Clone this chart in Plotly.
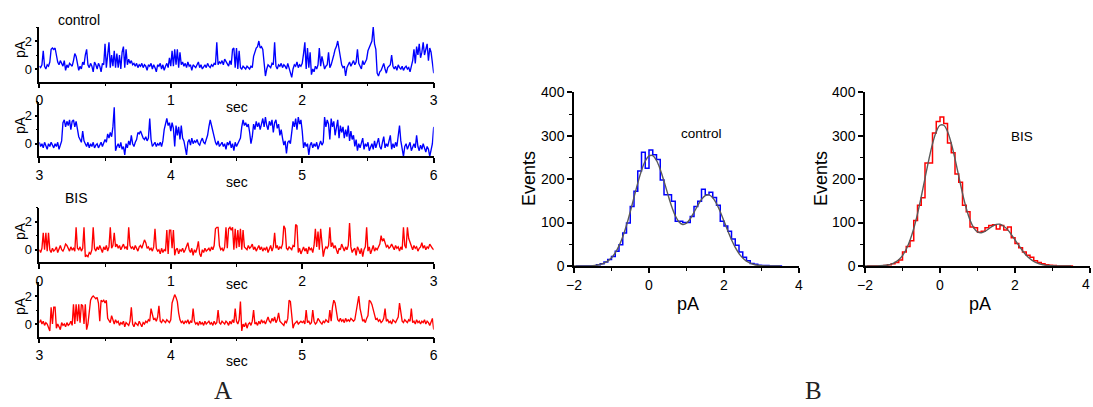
import numpy as np
import plotly.graph_objects as go

# ---------------- DATA ----------------
# single-channel current traces (pA), sampled every 0.01 s
ctrl_0_3 = [
    0.2, 0.1, 0.3, 1.3, 0.2, 0.0, 0.3, 0.2, 0.5, 1.4,
    1.5, 1.4, 1.5, 0.9, 0.5, 0.3, 0.6, 0.4, 0.2, 0.6,
    -0.1, 0.3, 0.1, 0.4, 0.3, 0.2, 0.6, 1.1, 0.9, 0.5,
    -0.1, 0.2, 0.0, 0.5, 0.3, 1.0, 1.4, 0.3, 0.1, 0.4,
    0.2, -0.2, 0.5, 0.3, 0.0, 0.4, 0.2, -0.2, 0.4, 0.3,
    1.8, 0.1, 1.2, 1.9, 0.1, 1.0, 0.2, 1.3, 0.1, 1.1,
    0.1, 1.0, 0.0, 1.2, 1.6, 0.1, 1.4, 0.3, 0.7, 0.4,
    0.6, 0.3, 0.4, 0.2, 0.4, 0.1, 0.3, 0.2, 0.4, 0.1,
    0.3, 0.2, -0.1, 0.3, 0.2, 0.4, 0.0, 0.3, 0.1, -0.2,
    0.3, 0.2, 0.4, 0.0, 0.3, -0.1, 0.2, 0.4, 0.1, 0.8,
    0.2, 1.3, 0.2, 1.4, 0.3, 1.4, 0.1, 1.2, 0.3, 0.5,
    0.2, 0.4, 0.1, 0.5, 0.2, 0.3, -0.1, 0.3, 0.2, 0.1,
    0.3, 0.5, 0.1, 0.3, 0.0, 0.2, 0.3, 0.1, 0.4, 0.2,
    0.1, 0.3, 0.2, 0.4, 0.3, 1.9, 0.3, 0.5, 0.4, 0.6,
    0.3, 0.7, 0.5, 0.4, 0.2, 0.6, 0.3, 1.4, 1.5, 0.1,
    1.5, 0.0, 1.3, 0.1, 0.0, 0.2, 0.1, 0.0, 0.2, 0.1,
    0.0, 0.2, 0.1, 0.9, 1.3, 1.5, 1.6, 2.0, 1.5, 1.6,
    1.4, 0.6, -0.5, 0.0, 0.3, 0.2, 0.1, 0.4, 0.3, 1.9,
    0.2, 0.0, 0.3, 0.2, 0.4, 0.1, 0.3, 0.2, 0.0, 0.4,
    0.1, -0.2, -0.6, 0.0, 0.3, 0.2, 0.5, 0.1, 0.3, 0.2,
    0.4, 1.1, 1.9, 0.0, 1.5, 0.1, 1.2, -0.4, 0.0, -0.2,
    0.2, 0.0, 0.3, 1.5, 0.2, 0.9, 0.3, 0.0, 0.2, 0.3,
    1.2, 0.1, 0.3, 0.6, 1.0, 1.4, 1.6, 2.0, 1.5, 0.8,
    0.3, 0.1, 0.2, -0.5, 0.1, 0.3, 0.5, 0.2, 0.4, 0.6,
    0.3, 0.5, 1.4, 0.4, 0.2, 0.0, 0.6, 0.3, 0.5, 0.7,
    1.3, 1.5, 1.7, 2.0, 3.0, 1.8, 1.4, -0.3, -0.5, -0.2,
    -0.1, 0.2, 0.4, 0.0, -0.3, 0.1, 0.2, 0.3, 1.0, 0.2,
    0.0, 0.2, -0.1, 0.3, 0.1, 0.0, 0.2, -0.1, 0.1, 0.2,
    0.0, 0.1, -0.2, 0.3, 0.6, 1.4, 0.4, 1.6, 1.0, 1.8,
    0.8, 1.2, 1.9, 1.0, 1.4, 1.8, 0.6, 1.5, 1.2, 0.2,
    -0.3,
]
ctrl_3_6 = [
    0.1, -0.2, 0.0, -0.3, 0.1, -0.1, -0.4, 0.0, -0.2, 0.1,
    -0.1, -0.3, 0.0, -0.2, 0.1, -0.4, -0.1, 0.2, 1.5, 1.7,
    1.2, 1.6, 1.3, 1.7, 1.0, 1.6, 1.7, 1.2, 1.6, 1.0,
    0.5, 0.3, 0.1, 0.9, 0.2, 0.0, -0.2, 0.1, -0.3, 0.0,
    -0.2, 0.1, -0.3, -0.1, 0.0, -0.3, -0.1, 0.1, -0.2, 0.0,
    0.3, 0.1, 0.7, 0.4, 0.8, 0.5, 1.2, 2.6, -0.5, -0.2,
    0.0, -0.3, 0.1, -0.4, -0.2, -0.8, 0.0, -0.3, 0.2, -0.1,
    0.6, 0.0, -0.2, 0.1, 0.3, 0.8, 0.7, 0.9, 0.6, 0.4,
    0.3, 0.5, 0.2, 0.4, 1.8, 0.3, -0.2, 0.0, 0.1, -0.2,
    0.0, -0.1, 0.1, -0.2, 0.2, 1.0, 1.4, 1.8, 1.3, 1.5,
    0.9, 1.5, 1.1, -0.2, 1.3, 0.6, 1.2, 0.3, 1.3, 0.4,
    0.2, -0.3, -0.8, 0.1, 0.3, -0.1, 0.4, 0.0, 0.2, 0.1,
    0.3, 0.0, -0.1, 0.2, 0.4, 0.1, 0.0, 0.3, 0.6, 1.2,
    1.7, 1.3, 0.9, 0.3, 0.1, -0.1, 0.2, -0.2, 0.0, 0.1,
    -0.2, 0.0, -0.4, 0.1, -0.1, 0.2, -0.3, 0.0, -0.5, 0.1,
    -0.2, 0.0, 0.1, 0.4, 1.2, 1.7, 1.3, 1.5, 1.2, 1.4,
    0.8, 0.0, 0.5, 1.4, 1.0, 1.6, 1.2, 1.5, 1.0, 1.4,
    1.8, 1.2, 1.9, 1.3, 1.0, 1.6, 1.3, 1.7, 0.8, 1.5,
    1.7, 1.1, 1.4, 0.6, 1.0, 0.4, -0.1, 0.2, -0.7, 0.1,
    0.2, 0.0, 1.1, 1.6, 1.2, 1.8, 1.0, 1.9, 1.4, 1.7,
    0.9, -0.3, 0.1, -0.2, 0.0, -0.8, -0.1, 0.1, -0.3, 0.0,
    -0.2, 0.1, -0.4, 0.0, 0.2, -0.1, 0.1, 1.9, 1.2, 1.7,
    1.4, 0.3, 1.8, 1.2, 1.6, 0.6, 1.3, 1.7, 0.4, 1.3,
    0.8, 1.2, 0.4, 1.0, 0.5, 1.3, 0.2, 0.9, 0.3, 0.6,
    -0.2, 0.3, -0.5, 0.0, -0.3, 0.1, 0.4, -0.4, 0.0, -0.2,
    0.1, -0.5, -0.2, 0.0, -0.4, 0.2, -0.3, 0.0, 0.4, -0.2,
    -0.4, 0.1, 0.5, -0.3, 0.0, -0.2, 0.2, 0.6, -0.4, 0.0,
    -0.3, 0.1, -0.2, 0.4, 1.3, 0.2, -0.5, -0.9, -0.2, 0.0,
    -0.4, -0.1, 0.1, -0.5, -0.2, 0.0, -0.3, 0.6, -0.2, -0.5,
    -0.1, -0.4, 0.0, -0.3, -0.6, -0.2, -0.4, -0.9, -0.3, 0.0,
    1.2,
]
bis_0_3 = [
    0.0, -0.2, 0.1, 1.2, 0.0, 1.2, -0.1, 1.2, 0.0, -0.2,
    0.1, -0.1, 0.0, 0.2, -0.2, 0.1, 0.3, 0.0, -0.1, 0.1,
    0.4, 0.3, 0.1, -0.1, 0.2, 0.0, 0.1, -0.1, 1.6, 0.1,
    0.0, 0.2, -0.1, 0.1, 1.6, -0.5, -0.4, -0.5, -0.2, -0.3,
    0.0, 1.6, 0.1, -0.1, 0.2, 0.0, 0.3, 0.1, -0.2, 0.2,
    0.0, 0.3, -0.1, 0.2, 1.6, 0.1, 0.3, 1.2, 0.2, 0.4,
    0.1, 0.3, 0.0, 0.2, 0.4, 0.1, 0.2, 0.0, 1.6, 0.3,
    0.1, 0.2, 0.0, 0.3, 0.1, -0.1, 0.2, 0.3, 0.1, 0.4,
    0.7, 0.5, 0.1, 0.2, 0.0, 0.1, -0.1, 0.2, 1.5, 0.1,
    -0.1, 0.0, -0.3, 0.1, -0.2, 0.0, -0.1, 1.4, -0.3, 1.4,
    1.4, 0.1, 1.4, -0.4, 0.0, 0.1, -0.3, 0.0, -0.1, 0.1,
    -0.2, 0.0, 0.2, 0.5, 0.0, -0.2, 0.1, -0.4, 0.0, -0.2,
    0.1, 0.6, -0.3, -0.5, 0.0, -0.2, 0.1, -0.1, 0.0, 0.1,
    -0.1, 0.2, 0.0, 0.3, 1.5, 1.6, 1.6, 0.3, 0.0, 0.1,
    -0.1, 0.2, 1.6, 0.1, 1.5, 1.6, 1.4, 1.6, 0.0, 1.5,
    0.1, 1.4, 0.2, 1.5, 0.0, 1.4, 0.2, 0.1, 0.0, 0.3,
    0.1, 0.2, 0.4, 0.0, 0.2, -0.1, 0.1, 0.3, 0.0, 0.2,
    -0.1, 0.1, 0.0, 0.2, -0.2, 0.1, 0.3, -0.1, 0.2, 1.2,
    0.1, 0.3, 0.0, 0.2, 0.1, 0.4, 1.7, 1.5, 0.1, 0.0,
    0.2, 0.1, 0.0, 0.3, 0.2, 1.8, 1.7, -0.2, 0.1, -0.3,
    0.0, 0.2, -0.1, 0.1, -0.3, 0.2, 0.0, 0.1, -0.2, 0.3,
    1.5, 0.2, 1.3, 0.0, 1.5, 0.4, -0.5, 0.0, 0.2, 0.1,
    0.3, 1.6, 0.2, 0.5, 0.1, 0.3, 0.0, -0.3, 0.1, 0.0,
    0.4, 0.1, -0.1, 0.2, 0.0, 0.3, 1.9, 0.2, -0.2, 0.0,
    0.1, -0.4, 0.2, 0.0, -0.3, 0.1, -0.5, 0.0, 0.2, 1.6,
    -0.1, 0.2, -0.3, 0.0, 0.3, -0.1, 0.1, 0.0, 0.2, 0.4,
    1.0, 0.6, 0.8, 0.5, 0.2, 0.3, 0.1, 0.2, 0.4, 0.2,
    0.0, 0.3, 0.1, 0.2, -0.1, 0.2, 0.0, 1.6, 0.3, 0.1,
    1.6, 0.8, 0.5, 0.2, 0.0, 0.3, 0.1, 0.2, -0.1, 0.1,
    0.2, 0.5, 0.1, 0.3, 0.0, 0.2, 0.1, 0.4, 0.2, 0.1,
    0.0,
]
bis_3_6 = [
    0.1, 0.3, 0.0, 0.2, -0.1, 0.1, 0.0, -0.2, -0.5, 1.2,
    0.0, 1.2, 1.2, -0.3, 0.0, -0.2, -0.4, 0.1, -0.1, 0.0,
    -0.2, 0.1, -0.1, 0.0, 0.2, -0.1, 1.4, 0.0, 1.4, 0.2,
    1.4, 0.1, 1.4, 1.3, 0.0, 1.4, -0.4, 0.0, 0.8, 1.7,
    1.9, 2.0, 1.9, 1.8, 1.9, 1.5, 0.2, 1.7, 1.6, 1.7,
    1.5, 1.7, 0.4, 0.2, 0.1, 0.6, 0.2, 0.0, 0.3, 0.1,
    0.2, -0.1, 0.1, 0.0, 0.2, -0.2, 0.1, 0.0, -0.1, 0.2,
    1.2, 0.0, -0.2, 0.1, 0.0, -0.1, 0.2, 0.0, -0.2, 0.1,
    0.0, 0.2, 0.1, 0.3, 0.2, 1.1, 0.7, 0.3, 0.4, 0.2,
    0.5, 1.3, 0.2, 0.1, 0.3, 0.2, 0.1, 0.3, 0.2, 0.1,
    0.3, 1.5, 1.8, 2.1, 1.9, 1.6, 0.8, 0.3, 0.1, 0.2,
    0.0, 0.2, 0.1, 0.3, 0.0, 0.2, 0.1, 1.1, 0.2, 0.0,
    0.1, -0.1, 0.2, 0.0, 0.1, -0.1, 0.2, 0.0, 0.1, 0.2,
    0.0, 0.1, -0.1, 0.2, 0.0, 0.1, 1.0, 0.1, 0.0, 0.2,
    0.1, 0.0, 0.2, 0.1, -0.1, 0.2, 0.0, 0.3, 0.1, 1.1,
    0.2, 0.0, 0.3, 1.6, -0.5, 0.0, -0.2, 0.1, -0.3, 0.0,
    0.1, -0.1, 0.2, 1.0, 0.0, 0.1, -0.1, 0.2, 0.0, 0.3,
    0.1, 0.2, 0.0, 0.3, 0.5, 0.2, 0.1, 0.4, 0.2, 0.5,
    0.1, 0.3, 0.8, 0.2, 0.1, 0.0, -0.1, 0.2, 0.1, 0.4,
    1.7, 1.6, 0.3, -0.3, 0.0, 0.1, 0.2, 0.0, 0.1, 0.2,
    0.1, 0.2, 0.0, 1.0, 0.1, 0.2, 0.0, 0.1, 1.0, 0.2,
    0.0, 0.1, 0.4, 0.2, 0.1, 0.0, 0.2, 0.1, 0.3, 0.2,
    0.1, 1.0, 0.2, 1.2, 1.7, 1.5, 1.0, 0.3, 0.2, 0.4,
    0.2, 0.3, 0.1, 0.4, 0.2, 0.3, 0.2, 0.4, 0.3, 0.2,
    0.3, 0.9, 1.5, 2.0, 1.1, 0.5, 0.2, 0.3, 0.1, 0.4,
    0.6, 1.7, 1.6, 1.4, 1.0, 0.6, 0.3, 0.4, 0.2, 0.3,
    0.1, 0.2, 0.4, 1.1, 0.2, 0.3, 0.1, 0.2, 0.0, 0.3,
    0.2, 0.1, 0.3, 0.5, 1.5, 0.8, 0.2, 0.1, 0.3, 0.2,
    0.1, 0.3, 0.2, 1.1, 0.1, 0.2, 0.0, 0.3, 0.1, 0.2,
    0.0, 0.2, 0.1, 0.3, 0.0, 0.2, 0.1, -0.1, 0.2, 0.4,
    -0.4,
]

# amplitude histograms: bin centres (pA) and counts
hist_centers = [round(-1.95 + 0.1 * i, 2) for i in range(56)]
ctrl_counts = [0, 0, 0, 0, 0, 0, 3, 5, 9, 15, 22, 34, 49, 76, 99, 137, 172, 219, 262, 225,
               267, 256, 245, 198, 164, 164, 149, 103, 103, 100, 100, 114, 137, 149, 177, 164,
               170, 158, 140, 103, 92, 80, 62, 48, 32, 20, 12, 6, 4, 2, 1, 1, 0, 0, 0, 0]
bis_counts = [0, 0, 0, 0, 0, 1, 3, 5, 8, 14, 32, 45, 58, 105, 140, 157, 237, 237, 306, 333,
              343, 328, 283, 261, 212, 193, 140, 125, 90, 88, 78, 80, 88, 93, 95, 85,
              93, 83, 90, 65, 52, 42, 32, 25, 20, 12, 8, 5, 3, 2, 1, 0, 0, 0, 0, 0]
# fitted curves, on a 0.1 pA grid
fit_x = [round(-2.0 + 0.1 * i, 1) for i in range(56)]
ctrl_fit = [0, 0, 0.1, 0.2, 0.4, 0.9, 1.8, 3.4, 6.4, 11.2, 18.8, 30.2, 46.3, 67.5, 94.0, 124.8,
            158.0, 190.9, 220.0, 241.8, 253.5, 254.1, 243.0, 222.4, 195.4, 166.0, 138.4, 116.1,
            101.4, 95.7, 98.6, 108.7, 123.5, 139.5, 153.3, 162.1, 163.7, 157.1, 143.8, 125.1,
            103.4, 81.1, 60.4, 42.7, 28.7, 18.3, 11.1, 6.4, 3.5, 1.8, 0.9, 0.4, 0.2, 0.1, 0, 0]
bis_fit = [0, 0, 0.1, 0.3, 0.6, 1.2, 2.3, 4.3, 8.2, 14.3, 24.0, 38.6, 59.2, 86.3, 120.2, 159.5,
           202.0, 244.0, 281.2, 309.1, 324.1, 324.1, 309.8, 282.6, 246.6, 206.7, 167.4, 133.1,
           106.1, 88.0, 78.5, 76.4, 79.7, 85.8, 91.7, 95.7, 96.1, 91.6, 83.8, 72.9,
           60.3, 47.3, 35.2, 24.9, 16.7, 10.7, 6.5, 3.7, 2.0, 1.0, 0.5, 0.2, 0.1, 0, 0, 0]

# ---------------- FIGURE ----------------
W, H = 1093, 407
BLUE = "#0000ff"
RED = "#ff0000"
GRAY = "#5a5a5a"
FONT = "Liberation Sans, Arial, sans-serif"
SERIF = "Liberation Serif, Times New Roman, serif"

def px(x):
    return x / W

def py(y):
    return 1 - y / H

fig = go.Figure()

panels = [
    (ctrl_0_3, 0, BLUE, 69.0),
    (ctrl_3_6, 3, BLUE, 143.7),
    (bis_0_3, 0, RED, 249.7),
    (bis_3_6, 3, RED, 324.0),
]
ppa = 14.0  # pixels per pA
x_left, x_right = 39.3, 433.7

for i, (vals, t0, col, zero_px) in enumerate(panels, start=1):
    t = np.linspace(t0, t0 + 3, len(vals))
    xa = "x" if i == 1 else f"x{i}"
    ya = "y" if i == 1 else f"y{i}"
    fig.add_trace(go.Scatter(x=t, y=vals, mode="lines", xaxis=xa, yaxis=ya,
                             line=dict(color=col, width=1.35), hoverinfo="skip"))
    bottom = zero_px + 0.9 * ppa
    top = zero_px - 3.0 * ppa
    sfx = "" if i == 1 else str(i)
    fig.update_layout(**{
        f"xaxis{sfx}": dict(domain=[px(x_left), px(x_right)], range=[t0, t0 + 3],
                            anchor=ya, tickmode="linear", tick0=t0, dtick=1,
                            automargin=False,
                            showline=True, linecolor="black", linewidth=1.5,
                            ticks="outside", ticklen=5, tickwidth=1.5, tickcolor="black",
                            minor=dict(ticks="outside", ticklen=3, tickwidth=1.2,
                                       tickcolor="black", dtick=0.5, showgrid=False),
                            showgrid=False, zeroline=False,
                            tickfont=dict(family=FONT, size=14, color="black")),
        f"yaxis{sfx}": dict(domain=[py(bottom), py(top)], range=[-0.9, 3.0],
                            anchor=xa, tickmode="linear", tick0=0, dtick=2,
                            automargin=False,
                            showline=True, linecolor="black", linewidth=1.5,
                            ticks="outside", ticklen=3, tickwidth=1.5, tickcolor="black",
                            minor=dict(ticks="outside", ticklen=2, tickwidth=1.2,
                                       tickcolor="black", dtick=1, showgrid=False),
                            showgrid=False, zeroline=False,
                            tickfont=dict(family=FONT, size=13, color="black")),
    })

hists = [
    (ctrl_counts, ctrl_fit, BLUE, 574.0, 799.0, 5),
    (bis_counts, bis_fit, RED, 865.0, 1090.0, 6),
]
for counts, fit, col, xl, xr, k in hists:
    fig.add_trace(go.Scatter(x=hist_centers, y=counts, mode="lines", line_shape="hvh",
                             xaxis=f"x{k}", yaxis=f"y{k}",
                             line=dict(color=col, width=1.5), hoverinfo="skip"))
    fig.add_trace(go.Scatter(x=fit_x, y=fit, mode="lines", line_shape="spline",
                             xaxis=f"x{k}", yaxis=f"y{k}",
                             line=dict(color=GRAY, width=1.4), hoverinfo="skip"))
    fig.update_layout(**{
        f"xaxis{k}": dict(domain=[px(xl), px(xr)], range=[-2, 4], anchor=f"y{k}",
                          tickmode="linear", tick0=-2, dtick=2, automargin=False,
                          showline=True, linecolor="black", linewidth=1.5,
                          ticks="outside", ticklen=5, tickwidth=1.5, tickcolor="black",
                          minor=dict(ticks="outside", ticklen=3, tickwidth=1.2,
                                     tickcolor="black", dtick=1, showgrid=False),
                          showgrid=False, zeroline=False,
                          tickfont=dict(family=FONT, size=14, color="black")),
        f"yaxis{k}": dict(domain=[py(266), py(92.3)], range=[0, 400], anchor=f"x{k}",
                          tickmode="linear", tick0=0, dtick=100, automargin=False,
                          showline=True, linecolor="black", linewidth=1.5,
                          ticks="outside", ticklen=5, tickwidth=1.5, tickcolor="black",
                          minor=dict(ticks="outside", ticklen=3, tickwidth=1.2,
                                     tickcolor="black", dtick=50, showgrid=False),
                          showgrid=False, zeroline=False,
                          tickfont=dict(family=FONT, size=14, color="black")),
    })

ann = []

def text(x, y, s, size, angle=0, family=FONT, color="black", yanchor="middle",
         xanchor="center"):
    ann.append(dict(x=px(x), y=py(y), xref="paper", yref="paper", text=s,
                    showarrow=False, xanchor=xanchor, yanchor=yanchor,
                    textangle=angle, font=dict(family=family, size=size, color=color)))

# left panel labels
text(79, 20, "control", 14)
text(76, 198, "BIS", 14)
for yy in (107, 182, 284.3, 361):
    text(236.5, yy, "sec", 14)
for yy in (49, 125, 231, 306):
    text(20, yy, "pA", 14, angle=-90)

# histogram labels
text(701, 133, "control", 13.5)
text(1022, 137, "BIS", 13.5)
text(529, 179, "Events", 18, angle=-90)
text(821, 179, "Events", 18, angle=-90)
text(688, 304, "pA", 18)
text(980, 304, "pA", 18)
# last x tick label of the right histogram sits at the figure edge
text(1092, 284, "4", 14, xanchor="right")

# panel letters
text(223, 406, "A", 25, family=SERIF, color="#222222", yanchor="bottom")
text(813, 406, "B", 25, family=SERIF, color="#222222", yanchor="bottom")

fig.update_layout(width=W, height=H,
                  margin=dict(l=0, r=0, t=0, b=0, pad=0, autoexpand=False),
                  paper_bgcolor="white", plot_bgcolor="white",
                  showlegend=False, annotations=ann)

fig.write_html("out.html")
